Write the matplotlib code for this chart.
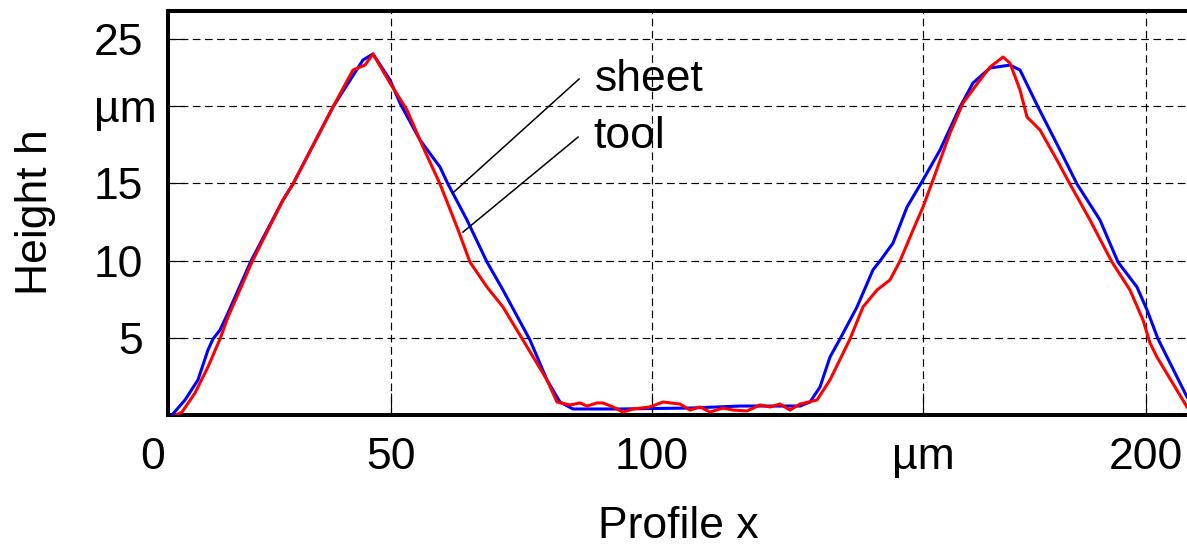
import matplotlib.pyplot as plt
import matplotlib.transforms as mtransforms
import numpy as np

plt.rcParams["font.family"] = ["Liberation Sans", "DejaVu Sans"]

# Profil Blech (blau)
sheet_x = [8.10, 10.59, 13.08, 15.00, 15.96, 17.30, 18.83, 23.24, 29.37, 31.28,
           38.95, 44.69, 46.61, 49.87, 51.78, 55.61, 59.45, 60.98, 64.62, 68.45,
           71.51, 76.69, 79.94, 82.43, 84.92, 93.93, 107.34, 116.92, 128.41, 130.33,
           132.24, 134.16, 136.07, 139.33, 142.39, 143.74, 146.23, 148.91, 151.97,
           155.23, 159.06, 161.55, 164.81, 168.64, 170.56, 174.01, 178.22, 181.48,
           185.88, 189.33, 192.97, 194.89, 197.00, 202.55]
sheet_h = [0.00, 0.97, 2.27, 4.21, 4.92, 5.50, 6.60, 9.97, 13.92, 14.95,
           19.94, 22.98, 23.37, 21.68, 20.19, 17.80, 16.05, 14.95, 12.62, 9.90,
           8.09, 4.85, 2.27, 0.84, 0.39, 0.39, 0.45, 0.58, 0.58, 0.84,
           1.81, 3.75, 4.92, 6.99, 9.39, 9.97, 11.13, 13.46, 15.21,
           17.15, 19.94, 21.49, 22.46, 22.65, 22.33, 19.94, 17.15, 14.95,
           12.62, 9.90, 8.28, 6.80, 4.92, 1.17]

# Profil Werkzeug (rot)
tool_x = [8.87, 10.02, 12.51, 15.00, 17.30, 18.83, 23.43, 29.37, 31.28, 38.95,
          42.78, 44.12, 45.08, 46.61, 49.87, 53.12, 56.19, 59.45, 62.70, 65.19,
          68.45, 71.51, 75.34, 79.94, 81.86, 84.35, 86.26, 87.61, 89.52, 90.67,
          92.59, 94.50, 96.42, 99.67, 102.16, 105.42, 107.34, 109.25, 111.17, 113.66,
          115.58, 118.26, 120.75, 122.66, 124.58, 126.49, 128.41, 131.67, 134.16,
          137.99, 140.48, 143.16, 145.65, 147.57, 150.06, 151.97, 153.89, 157.15,
          159.64, 162.89, 164.81, 167.30, 168.64, 170.56, 171.90, 174.39, 177.64,
          180.13, 183.97, 188.18, 191.63, 194.12, 195.46, 196.80, 202.55]
tool_h = [0.00, 0.19, 1.42, 3.11, 4.92, 6.34, 9.90, 13.92, 14.95, 19.94,
          22.33, 22.52, 22.65, 23.37, 21.49, 19.74, 17.35, 14.95, 12.17, 9.90,
          8.28, 6.99, 4.85, 2.27, 0.84, 0.65, 0.78, 0.58, 0.78, 0.78,
          0.52, 0.19, 0.39, 0.52, 0.84, 0.71, 0.32, 0.52, 0.19, 0.45,
          0.32, 0.26, 0.65, 0.52, 0.71, 0.32, 0.71, 0.97, 2.27,
          4.92, 6.99, 8.09, 8.74, 9.97, 11.97, 13.46, 15.21, 18.25,
          20.19, 21.68, 22.52, 23.17, 22.78, 21.04, 19.29, 18.45, 16.50,
          14.95, 12.62, 9.90, 8.09, 6.15, 4.66, 3.75, 0.52]

xtick_pos = [50, 100, 152, 194.7]
xtick_labels = ["50", "100", "µm", "200"]
ytick_pos = [5, 10, 15, 20, 24.35]
ytick_labels = ["5", "10", "15", "µm", "25"]

fig = plt.figure(figsize=(11.87, 5.53), dpi=100)
ax = fig.add_axes([168 / 1187, 1 - 415 / 553, 1 - 168 / 1187, (415 - 11) / 553])

ax.plot(sheet_x, sheet_h, color="#0000ff", lw=2.2, zorder=3)
ax.plot(tool_x, tool_h, color="#ff0000", lw=2.2, zorder=4)

ax.set_xlim(7.34, 202.55)
ax.set_ylim(0, 26.15)

ax.set_xticks(xtick_pos)
ax.set_xticklabels(xtick_labels)
ax.set_yticks(ytick_pos)
ax.set_yticklabels(ytick_labels)
ax.tick_params(axis="x", direction="in", length=16, width=0.8, labelsize=32, pad=16)
ax.tick_params(axis="y", direction="in", length=13, width=0.8, labelsize=32, pad=18)

# "µm" an der y-Achse steht etwas weiter rechts als die Zahlen
lbl = ax.get_yticklabels()[3]
lbl.set_transform(lbl.get_transform() +
                  mtransforms.ScaledTranslation(14 / 100, 0, fig.dpi_scale_trans))

ax.grid(True, color="black", linewidth=0.85, linestyle=(0, (6.5, 3.8)))
ax.set_axisbelow(True)

for side in ["left", "bottom", "top"]:
    ax.spines[side].set_linewidth(2.9)
ax.spines["right"].set_visible(False)

# "0" liegt links ausserhalb der Achse
ax.text(4.46, -0.055, "0", transform=ax.get_xaxis_transform(), ha="center",
        va="top", fontsize=32, clip_on=False)

# Beschriftung der Kurven
ax.plot([86.1, 61.9], [21.75, 14.37], color="black", lw=1.1, zorder=5)
ax.plot([85.9, 63.85], [17.99, 11.84], color="black", lw=1.1, zorder=5)
ax.text(89.1, 20.97, "sheet", fontsize=32, ha="left", va="baseline")
ax.text(88.8, 17.28, "tool", fontsize=32, ha="left", va="baseline")

fig.text(36 / 1187, 1 - 212 / 553, "Height h", rotation=90, ha="center",
         va="center", fontsize=32)
fig.text(678 / 1187, 1 - 527 / 553, "Profile x", ha="center", va="center",
         fontsize=32)

fig.savefig("out.png", dpi=100)
